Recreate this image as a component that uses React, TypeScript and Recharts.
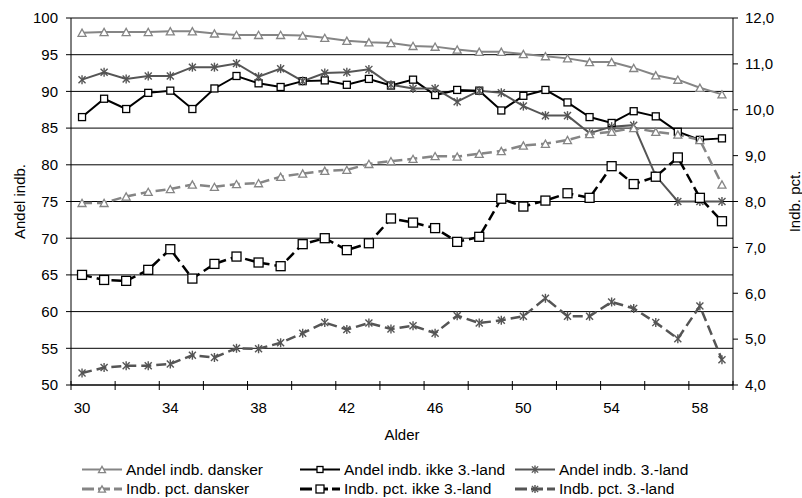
import React from 'react';
import { LineChart, Line, XAxis, YAxis, CartesianGrid } from 'recharts';

// ---- data ----
const ages = [30, 31, 32, 33, 34, 35, 36, 37, 38, 39, 40, 41, 42, 43, 44, 45, 46, 47, 48, 49, 50, 51, 52, 53, 54, 55, 56, 57, 58, 59];

// left axis (Andel indb.)
const andelDansker = [98.0, 98.1, 98.1, 98.1, 98.2, 98.2, 97.9, 97.7, 97.7, 97.7, 97.6, 97.3, 96.9, 96.7, 96.6, 96.2, 96.1, 95.7, 95.4, 95.4, 95.1, 94.8, 94.5, 94.0, 94.0, 93.2, 92.2, 91.6, 90.5, 89.6];
const andelIkke3 = [86.5, 89.0, 87.6, 89.8, 90.1, 87.6, 90.4, 92.1, 91.1, 90.6, 91.4, 91.5, 90.9, 91.7, 90.8, 91.6, 89.5, 90.2, 90.1, 87.4, 89.4, 90.2, 88.5, 86.5, 85.7, 87.3, 86.6, 84.5, 83.4, 83.6];
const andel3 = [91.6, 92.6, 91.7, 92.1, 92.1, 93.3, 93.3, 93.8, 92.0, 93.1, 91.4, 92.5, 92.6, 93.0, 90.9, 90.4, 90.4, 88.6, 90.1, 89.8, 88.0, 86.7, 86.7, 84.3, 85.2, 85.4, 78.5, 75.0, 75.0, 75.0];

// right axis (Indb. pct.)
const pctDansker = [7.97, 7.97, 8.11, 8.21, 8.27, 8.37, 8.32, 8.38, 8.40, 8.54, 8.61, 8.67, 8.69, 8.82, 8.88, 8.93, 8.99, 8.98, 9.04, 9.10, 9.22, 9.26, 9.34, 9.47, 9.52, 9.60, 9.52, 9.46, 9.34, 8.37];
const pctIkke3 = [6.40, 6.29, 6.27, 6.51, 6.96, 6.32, 6.64, 6.80, 6.67, 6.59, 7.07, 7.20, 6.94, 7.09, 7.63, 7.54, 7.42, 7.12, 7.23, 8.06, 7.89, 8.02, 8.18, 8.08, 8.77, 8.38, 8.54, 8.96, 8.08, 7.57];
const pct3 = [4.26, 4.38, 4.42, 4.42, 4.46, 4.65, 4.60, 4.80, 4.79, 4.92, 5.13, 5.36, 5.21, 5.35, 5.22, 5.29, 5.13, 5.51, 5.35, 5.41, 5.50, 5.89, 5.50, 5.50, 5.81, 5.67, 5.36, 5.01, 5.72, 4.55];

const xTickLabels = [30, 34, 38, 42, 46, 50, 54, 58];
const leftTicks = [50, 55, 60, 65, 70, 75, 80, 85, 90, 95, 100];
const rightTicks = [4, 5, 6, 7, 8, 9, 10, 11, 12];

const seriesNames = [
  'Andel indb. dansker',
  'Andel indb. ikke 3.-land',
  'Andel indb. 3.-land',
  'Indb. pct. dansker',
  'Indb. pct. ikke 3.-land',
  'Indb. pct. 3.-land',
];

const data = ages.map((age, i) => ({
  age,
  andelDansker: andelDansker[i],
  andelIkke3: andelIkke3[i],
  andel3: andel3[i],
  pctDansker: pctDansker[i],
  pctIkke3: pctIkke3[i],
  pct3: pct3[i],
}));

// category boundaries (Excel-style ticks between categories, every 2nd)
const boundaryTicks: number[] = [];
for (let i = 0; i <= ages.length; i += 2) boundaryTicks.push(ages[0] - 0.5 + i);
const xTicks = [...boundaryTicks, ...xTickLabels].sort((a, b) => a - b);

// ---- styles ----
const FONT = '"Liberation Sans", Arial, sans-serif';
const GRAY = '#858585';
const DARK = '#555555';
const BLACK = '#000000';
const DASH = '10 5';

const TriMark = ({ cx, cy, color, size = 8, sw = 1.3 }: any) => {
  if (cx == null || cy == null) return null;
  const h = size * 0.9;
  return (
    <polygon
      points={`${cx},${cy - h / 2} ${cx - size / 2},${cy + h / 2} ${cx + size / 2},${cy + h / 2}`}
      fill="#fff"
      stroke={color}
      strokeWidth={sw}
    />
  );
};

const SqMark = ({ cx, cy, color, size = 7, sw = 1.3 }: any) => {
  if (cx == null || cy == null) return null;
  return <rect x={cx - size / 2} y={cy - size / 2} width={size} height={size} fill="#fff" stroke={color} strokeWidth={sw} />;
};

const StarMark = ({ cx, cy, color, size = 9, sw = 1.4 }: any) => {
  if (cx == null || cy == null) return null;
  const r = size / 2;
  const d = r * 0.78;
  return (
    <g stroke={color} strokeWidth={sw}>
      <line x1={cx} y1={cy - r} x2={cx} y2={cy + r} />
      <line x1={cx - d} y1={cy - d} x2={cx + d} y2={cy + d} />
      <line x1={cx - d} y1={cy + d} x2={cx + d} y2={cy - d} />
    </g>
  );
};

const XTick = (props: any) => {
  const { x, y, payload } = props;
  const v = payload.value;
  if (Number.isInteger(v)) {
    return (
      <text x={x} y={y + 28} textAnchor="middle" fill="#000" fontSize={15} fontFamily={FONT}>
        {v}
      </text>
    );
  }
  return <line x1={x} y1={y - 4} x2={x} y2={y + 5} stroke="#000" strokeWidth={1} />;
};

const fmtRight = (v: number) => v.toFixed(1).replace('.', ',');

type LegendItem = { name: string; color: string; dash?: string; width: number; marker: 'tri' | 'sq' | 'star'; msize: number };
const legendItems: LegendItem[] = [
  { name: seriesNames[0], color: GRAY, width: 2, marker: 'tri', msize: 7 },
  { name: seriesNames[1], color: BLACK, width: 2, marker: 'sq', msize: 6 },
  { name: seriesNames[2], color: DARK, width: 2, marker: 'star', msize: 8 },
  { name: seriesNames[3], color: GRAY, dash: '12 4', width: 3, marker: 'tri', msize: 7 },
  { name: seriesNames[4], color: BLACK, dash: '12 4', width: 3, marker: 'sq', msize: 8 },
  { name: seriesNames[5], color: DARK, dash: '12 4', width: 3, marker: 'star', msize: 8 },
];
const legendCols = [82, 300, 515];
const legendRows = [469.5, 489];

const Legend2 = () => (
  <svg width={802} height={498} style={{ position: 'absolute', left: 0, top: 0, pointerEvents: 'none' }}>
    {legendItems.map((it, i) => {
      const x0 = legendCols[i % 3];
      const cy = legendRows[Math.floor(i / 3)];
      const mx = x0 + 20;
      const M = it.marker === 'tri' ? TriMark : it.marker === 'sq' ? SqMark : StarMark;
      return (
        <g key={it.name}>
          <line x1={x0} y1={cy} x2={x0 + 40} y2={cy} stroke={it.color} strokeWidth={it.width} strokeDasharray={it.dash} />
          <M cx={mx} cy={cy} color={it.color} size={it.msize} />
          <text x={x0 + 44} y={cy + 5.2} fontSize={15.5} fontFamily={FONT} fill="#000">
            {it.name}
          </text>
        </g>
      );
    })}
  </svg>
);

export default function App() {
  return (
    <div style={{ position: 'absolute', left: 0, top: 0, width: 802, height: 498, background: '#fff', fontFamily: FONT }}>
      <LineChart width={802} height={498} data={data} margin={{ top: 18, right: 0, bottom: 53, left: 0 }}>
        <CartesianGrid yAxisId="left" vertical={false} stroke="#000" strokeOpacity={1} />
        <XAxis
          dataKey="age"
          type="number"
          domain={[ages[0] - 0.5, ages[ages.length - 1] + 0.5]}
          ticks={xTicks}
          interval={0}
          tick={<XTick />}
          tickLine={false}
          tickSize={0}
          tickMargin={0}
          axisLine={{ stroke: '#000' }}
          height={60}
          allowDataOverflow
          label={{ value: 'Alder', position: 'insideBottom', offset: 5, fill: '#000', fontSize: 15 }}
        />
        <YAxis
          yAxisId="left"
          domain={[50, 100]}
          ticks={leftTicks}
          interval={0}
          width={71}
          tickSize={5}
          tickMargin={8}
          tick={{ fill: '#000', fontSize: 15 }}
          tickLine={{ stroke: '#000' }}
          axisLine={{ stroke: '#000' }}
          label={{ value: 'Andel indb.', angle: -90, position: 'insideLeft', offset: 20, fill: '#000', fontSize: 15, style: { textAnchor: 'middle' } }}
        />
        <YAxis
          yAxisId="right"
          orientation="right"
          domain={[4, 12]}
          ticks={rightTicks}
          interval={0}
          width={69}
          tickSize={5}
          tickMargin={7}
          tickFormatter={fmtRight}
          tick={{ fill: '#000', fontSize: 15 }}
          tickLine={{ stroke: '#000' }}
          axisLine={{ stroke: '#000' }}
          label={{ value: 'Indb. pct.', angle: -90, position: 'insideRight', offset: 7, fill: '#000', fontSize: 15, style: { textAnchor: 'middle' } }}
        />
        <Line
          yAxisId="left"
          dataKey="andelDansker"
          name={seriesNames[0]}
          stroke={GRAY}
          strokeWidth={2}
          isAnimationActive={false}
          dot={(p: any) => <TriMark key={`ad${p.index}`} cx={p.cx} cy={p.cy} color={GRAY} size={8} />}
        />
        <Line
          yAxisId="left"
          dataKey="andelIkke3"
          name={seriesNames[1]}
          stroke={BLACK}
          strokeWidth={2}
          isAnimationActive={false}
          dot={(p: any) => <SqMark key={`ai${p.index}`} cx={p.cx} cy={p.cy} color={BLACK} size={7} />}
        />
        <Line
          yAxisId="left"
          dataKey="andel3"
          name={seriesNames[2]}
          stroke={DARK}
          strokeWidth={2}
          isAnimationActive={false}
          dot={(p: any) => <StarMark key={`a3${p.index}`} cx={p.cx} cy={p.cy} color={DARK} size={9} />}
        />
        <Line
          yAxisId="right"
          dataKey="pctDansker"
          name={seriesNames[3]}
          stroke={GRAY}
          strokeWidth={2.5}
          strokeDasharray={DASH}
          isAnimationActive={false}
          dot={(p: any) => <TriMark key={`pd${p.index}`} cx={p.cx} cy={p.cy} color={GRAY} size={8} />}
        />
        <Line
          yAxisId="right"
          dataKey="pctIkke3"
          name={seriesNames[4]}
          stroke={BLACK}
          strokeWidth={2.5}
          strokeDasharray={DASH}
          isAnimationActive={false}
          dot={(p: any) => <SqMark key={`pi${p.index}`} cx={p.cx} cy={p.cy} color={BLACK} size={9} />}
        />
        <Line
          yAxisId="right"
          dataKey="pct3"
          name={seriesNames[5]}
          stroke={DARK}
          strokeWidth={2.5}
          strokeDasharray={DASH}
          isAnimationActive={false}
          dot={(p: any) => <StarMark key={`p3${p.index}`} cx={p.cx} cy={p.cy} color={DARK} size={9} />}
        />
      </LineChart>
      <Legend2 />
    </div>
  );
}
